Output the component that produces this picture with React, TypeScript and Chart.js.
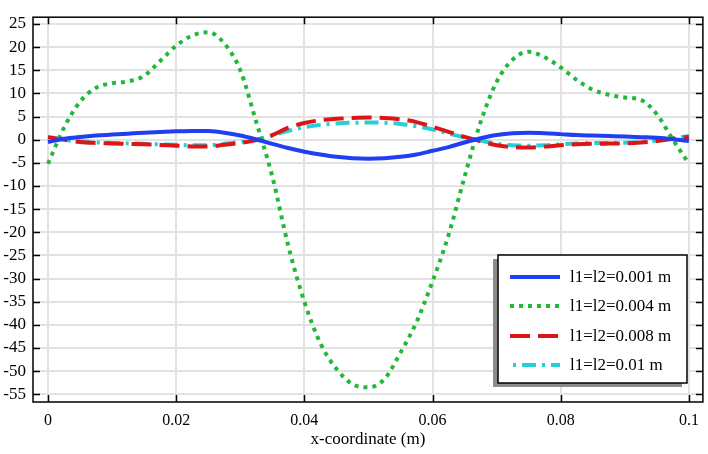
import { useEffect, useRef } from "react";
import { Chart, registerables } from "chart.js";

Chart.register(...registerables);

const xValues = [
  0, 0.0025, 0.005, 0.0075, 0.01, 0.0125, 0.015, 0.0175, 0.02, 0.0225,
  0.025, 0.0275, 0.03, 0.0325, 0.035, 0.0375, 0.04, 0.0425, 0.045, 0.0475,
  0.05, 0.0525, 0.055, 0.0575, 0.06, 0.0625, 0.065, 0.0675, 0.07, 0.0725,
  0.075, 0.0775, 0.08, 0.0825, 0.085, 0.0875, 0.09, 0.0925, 0.095, 0.0975, 0.1,
];

const series001 = [
  -0.5, 0.2, 0.6, 0.9, 1.1, 1.3, 1.5, 1.65, 1.8, 1.9,
  1.85, 1.5, 0.9, 0.05, -0.9, -1.8, -2.6, -3.2, -3.7, -4.0,
  -4.1, -4.0, -3.7, -3.2, -2.4, -1.6, -0.6, 0.3, 1.0, 1.4,
  1.5, 1.4, 1.2, 1.0, 0.9, 0.8, 0.7, 0.55, 0.4, 0.1, -0.3,
];

const series004 = [
  -5.2, 2.6, 8.2, 11.2, 12.2, 12.6, 13.8, 17.0, 20.3, 22.5,
  23.2, 20.8, 15.0, 3.8, -8.0, -23.0, -35.0, -44.0, -49.5, -52.8,
  -53.5, -51.7, -46.0, -39.4, -30.6, -20.6, -8.0, 3.8, 12.5, 17.3,
  19.0, 17.8, 15.6, 12.9, 10.8, 9.7, 9.1, 8.6, 5.5, 0.0, -5.2,
];

const series008 = [
  0.6, 0.0, -0.5, -0.7, -0.8, -0.9, -1.0, -1.15, -1.3, -1.45,
  -1.5, -1.1, -0.7, -0.1, 1.0, 2.6, 3.6, 4.2, 4.5, 4.7,
  4.8, 4.7, 4.4, 3.8, 2.8, 1.7, 0.6, -0.3, -1.2, -1.6,
  -1.7, -1.5, -1.2, -1.0, -0.9, -0.85, -0.8, -0.6, -0.3, 0.2, 0.6,
];

const series01 = [
  0.4, -0.05, -0.4, -0.6, -0.7, -0.8, -0.9, -1.0, -1.1, -1.2,
  -1.2, -0.9, -0.5, 0.0, 0.9, 1.9, 2.7, 3.2, 3.5, 3.65,
  3.7, 3.65, 3.4, 2.9, 2.2, 1.3, 0.5, -0.2, -0.9, -1.2,
  -1.3, -1.2, -1.0, -0.85, -0.75, -0.7, -0.65, -0.5, -0.2, 0.3, 0.8,
];

const seriesLabels = ["l1=l2=0.001 m", "l1=l2=0.004 m", "l1=l2=0.008 m", "l1=l2=0.01 m"];
const xTicks = [0, 0.02, 0.04, 0.06, 0.08, 0.1];
const yTicks = [-55, -50, -45, -40, -35, -30, -25, -20, -15, -10, -5, 0, 5, 10, 15, 20, 25];
const xTitle = "x-coordinate (m)";

const FONT = '"Liberation Serif", "Times New Roman", serif';

const styles = [
  { color: "#1f3ff0", dash: [] as number[], width: 4 },
  { color: "#22b83a", dash: [4, 5], width: 4 },
  { color: "#dd1515", dash: [20, 8], width: 4 },
  { color: "#25cfd6", dash: [14, 6, 3, 6], width: 4 },
];

const toPoints = (ys: number[]) => ys.map((y, i) => ({ x: xValues[i], y }));

const framePlugin = {
  id: "frameAndLegend",
  afterDraw(chart: any) {
    const { ctx, chartArea, scales } = chart;
    const { left, right, top, bottom } = chartArea;
    ctx.save();
    // frame
    ctx.strokeStyle = "#000";
    ctx.lineWidth = 1.5;
    ctx.setLineDash([]);
    ctx.strokeRect(left, top, right - left, bottom - top);
    // inward tick marks
    const tl = 7;
    ctx.beginPath();
    xTicks.forEach((v) => {
      const px = Math.round(scales.x.getPixelForValue(v)) + 0.5;
      ctx.moveTo(px, bottom);
      ctx.lineTo(px, bottom - tl);
      ctx.moveTo(px, top);
      ctx.lineTo(px, top + tl);
    });
    yTicks.forEach((v) => {
      const py = Math.round(scales.y.getPixelForValue(v)) + 0.5;
      ctx.moveTo(left, py);
      ctx.lineTo(left + tl, py);
      ctx.moveTo(right, py);
      ctx.lineTo(right - tl, py);
    });
    ctx.stroke();

    // x title
    ctx.fillStyle = "#000";
    ctx.font = `17px ${FONT}`;
    ctx.textAlign = "center";
    ctx.textBaseline = "middle";
    ctx.fillText(xTitle, (left + right) / 2, 440);

    // legend
    const bx = 498, by = 255, bw = 189, bh = 128;
    ctx.fillStyle = "#8c8c8c";
    ctx.fillRect(bx - 5, by + 4, bw, bh);
    ctx.fillStyle = "#fff";
    ctx.fillRect(bx, by, bw, bh);
    ctx.strokeStyle = "#000";
    ctx.lineWidth = 1.5;
    ctx.strokeRect(bx, by, bw, bh);
    const rows = [277, 306, 336, 365];
    seriesLabels.forEach((lab, i) => {
      const st = styles[i];
      ctx.strokeStyle = st.color;
      ctx.lineWidth = st.width;
      ctx.lineCap = "butt";
      ctx.setLineDash(st.dash);
      ctx.lineDashOffset = i === 3 ? 17 : 0;
      ctx.beginPath();
      ctx.moveTo(510, rows[i]);
      ctx.lineTo(560, rows[i]);
      ctx.stroke();
      ctx.setLineDash([]);
      ctx.lineDashOffset = 0;
      ctx.fillStyle = "#000";
      ctx.font = `17px ${FONT}`;
      ctx.textAlign = "left";
      ctx.textBaseline = "middle";
      ctx.fillText(lab, 570, rows[i] + 1);
    });
    ctx.restore();
  },
};

export default function App() {
  const ref = useRef<HTMLCanvasElement | null>(null);
  useEffect(() => {
    document.body.style.margin = "0";
    const canvas = ref.current;
    if (!canvas) return;
    const allSeries = [series001, series004, series008, series01];
    const chart = new Chart(canvas, {
      type: "line",
      data: {
        datasets: allSeries.map((s, i) => ({
          label: seriesLabels[i],
          data: toPoints(s),
          borderColor: styles[i].color,
          backgroundColor: styles[i].color,
          borderWidth: styles[i].width,
          borderDash: styles[i].dash,
          borderCapStyle: "butt",
          pointRadius: 0,
          fill: false,
          cubicInterpolationMode: "monotone",
        })),
      },
      options: {
        responsive: false,
        animation: false,
        events: [],
        layout: { padding: { top: 3, right: 4, left: 0, bottom: 0 } },
        plugins: { legend: { display: false }, tooltip: { enabled: false } },
        scales: {
          x: {
            type: "linear",
            min: -0.00234,
            max: 0.10218,
            afterBuildTicks: (s: any) => {
              s.ticks = xTicks.map((v) => ({ value: v }));
            },
            afterFit: (s: any) => {
              s.height = 52;
            },
            ticks: {
              color: "#000",
              font: { family: FONT, size: 16 },
              padding: 9,
              maxRotation: 0,
              autoSkip: false,
              callback: (v: any) => String(Number(Number(v).toFixed(2))),
            },
            grid: { color: "#e2e2e2", lineWidth: 2, drawTicks: false },
            border: { display: false },
          },
          y: {
            type: "linear",
            min: -56.67,
            max: 26.46,
            afterBuildTicks: (s: any) => {
              s.ticks = yTicks.map((v) => ({ value: v }));
            },
            afterFit: (s: any) => {
              s.width = 33;
            },
            ticks: {
              color: "#000",
              font: { family: FONT, size: 17 },
              padding: 7,
              autoSkip: false,
              callback: (v: any) => String(v),
            },
            grid: { color: "#e2e2e2", lineWidth: 2, drawTicks: false },
            border: { display: false },
          },
        },
      } as any,
      plugins: [framePlugin],
    });
    return () => chart.destroy();
  }, []);
  return (
    <div style={{ width: 708, height: 454 }}>
      <canvas ref={ref} width={708} height={454} style={{ display: "block" }} />
    </div>
  );
}
